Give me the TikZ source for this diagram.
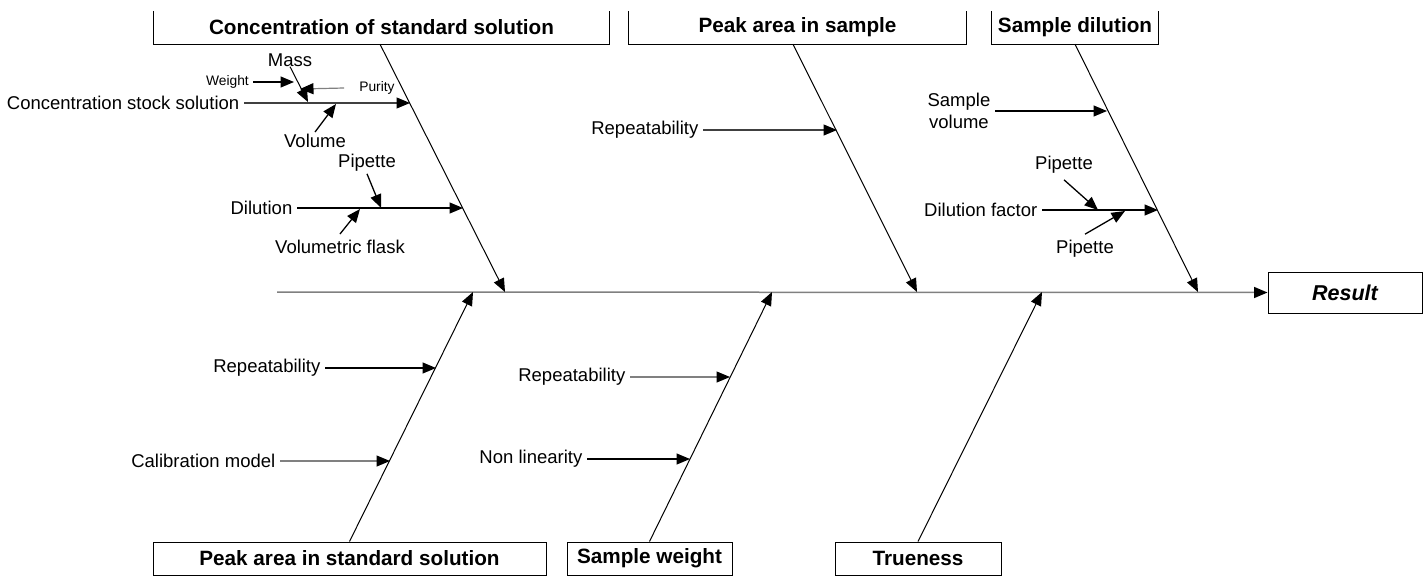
\documentclass[tikz,border=0pt]{standalone}
\usepackage{fontspec}
\setmainfont{Liberation Sans}
\usetikzlibrary{arrows.meta}
\definecolor{spinegray}{RGB}{128,128,128}
\tikzset{
  tri/.style={-{Triangle[length=13.5pt,width=11pt,color=black]}},
  bone/.style={tri,line width=1pt},
  cause/.style={tri,line width=1.3pt},
  faint/.style={tri,line width=1.2pt,spinegray},
  lbl/.style={font=\fontsize{18.5}{21.5}\selectfont,inner ysep=2pt,inner xsep=4.5pt},
  small/.style={font=\fontsize{13.8}{16}\selectfont,inner ysep=2pt,inner xsep=4pt},
  headbox/.style={font=\fontsize{20.7}{24}\selectfont\bfseries,minimum height=33pt,inner sep=0pt},
}

\begin{document}
\begin{tikzpicture}[x=1pt,y=-1pt]
\useasboundingbox (0,0) rectangle (1423,576);
% main spine and result
\coordinate (tail) at (277,292);
\node[headbox,draw,line width=1pt,minimum width=154pt,minimum height=41pt,font=\fontsize{21.5}{25}\selectfont\bfseries\itshape] (res) at (1345,292.5) {Result};
\draw[faint,line width=1.5pt] (tail) -- (res.west);

% heads on top (cut at the upper edge)
\node[headbox,minimum width=455pt] (conc) at (381.5,27.5) {Concentration of standard solution};
\node[headbox,minimum width=337pt] (peak) at (797.5,27.5) {Peak area in sample};
\node[headbox,minimum width=166pt] (sdil) at (1075,27.5) {Sample dilution};
\foreach \b in {conc,peak,sdil}
  \draw[line width=1pt] (\b.north west) |- (\b.south east) -- (\b.north east);

% heads at the bottom
\node[headbox,draw,line width=1pt,minimum width=393pt] (pstd) at (349.5,558.5) {Peak area in standard solution};
\node[headbox,draw,line width=1pt,minimum width=165pt] (swt) at (649.5,558.5) {Sample weight};
\node[headbox,draw,line width=1pt,minimum width=166pt] (true) at (918,558.5) {Trueness};

% joints on the spine
\coordinate (j1) at (505,292);
\coordinate (j2) at (917,292);
\coordinate (j3) at (1198,292);
\coordinate (j4) at (473,292);
\coordinate (j5) at (772,292);
\coordinate (j6) at (1042,292);

\draw[bone] ([xshift=-1.5pt]conc.south) -- (j1);
\draw[bone] ([xshift=-4.5pt]peak.south) -- (j2);
\draw[bone] (sdil.south) -- (j3);
\draw[bone] (pstd.north) -- (j4);
\draw[bone] (swt.north) -- (j5);
\draw[bone] (true.north) -- (j6);

% concentration of standard solution
\node[lbl,anchor=east] (cstock) at (244,103) {Concentration stock solution};
\coordinate (t1) at (410,103);
\draw[faint,black!75] (cstock.east) -- (t1);
\node[lbl] (mass) at (290,60) {Mass};
\coordinate (t1m) at (308,102);
\draw[cause,line width=1pt] ([yshift=2pt]mass.south) -- (t1m);
\node[small,anchor=east] (wgt) at (253,82) {Weight};
\draw[cause] (wgt.east) -- (294,82);
\node[small] (pur) at (377,88) {Purity};
\draw[faint] ([xshift=-11pt]pur.west) -- (300,89);
\node[lbl] (vol) at (315,141) {Volume};
\draw[cause] (vol.north) -- (336,104);
\node[lbl,anchor=east] (dil) at (297,208) {Dilution};
\coordinate (t2) at (463,208);
\draw[cause] (dil.east) -- (t2);
\node[lbl] (pip1) at (367,163) {Pipette};
\draw[cause] (pip1.south) -- (381,208);
\node[lbl] (vflask) at (340,247) {Volumetric flask};
\draw[cause] ([yshift=4pt]vflask.north) -- (360,209);

% peak area in sample
\node[lbl,anchor=east] (rep2) at (703,130) {Repeatability};
\coordinate (t3) at (837,130);
\draw[faint,black!75] (rep2.east) -- (t3);

% sample dilution
\node[lbl,anchor=east,align=center] (svol) at (995,111) {Sample\\volume};
\coordinate (t4) at (1107,111);
\draw[cause] (svol.east) -- (t4);
\node[lbl,anchor=east] (dfac) at (1042,210) {Dilution factor};
\coordinate (t5) at (1158,210);
\draw[cause] (dfac.east) -- (t5);
\node[lbl] (pip2) at (1064,165) {Pipette};
\draw[cause] ([yshift=-4pt]pip2.south) -- (1098,210);
\node[lbl] (pip3) at (1085,249) {Pipette};
\draw[cause] ([yshift=4pt]pip3.north) -- (1125,211);

% peak area in standard solution
\node[lbl,anchor=east] (rep4) at (325,368) {Repeatability};
\coordinate (t6) at (436,368);
\draw[cause] (rep4.east) -- (t6);
\node[lbl,anchor=east] (cal) at (280,461) {Calibration model};
\coordinate (t7) at (390,461);
\draw[faint] (cal.east) -- (t7);

% sample weight
\node[lbl,anchor=east] (rep5) at (630,377) {Repeatability};
\coordinate (t8) at (730,377);
\draw[faint] (rep5.east) -- (t8);
\node[lbl,anchor=east] (nonlin) at (587,459) {Non linearity};
\coordinate (t9) at (690,459);
\draw[cause] (nonlin.east) -- (t9);
\end{tikzpicture}
\end{document}
